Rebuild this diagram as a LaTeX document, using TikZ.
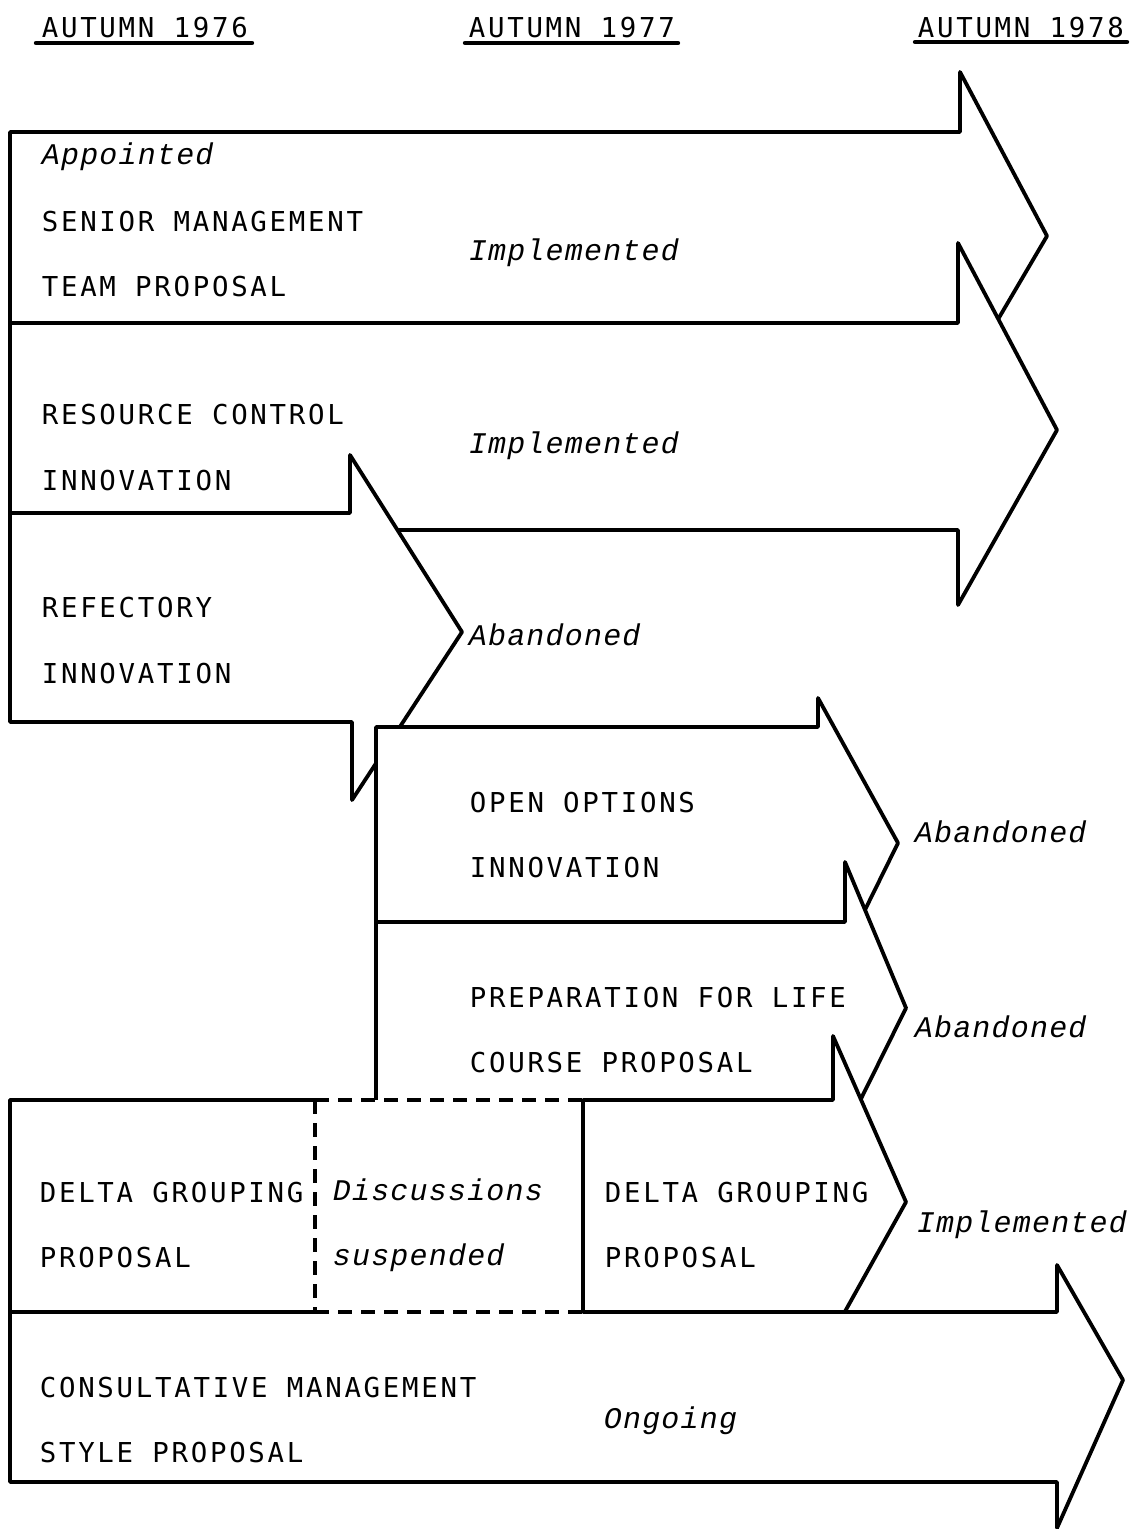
\documentclass[tikz,border=0pt]{standalone}
\usepackage{fontspec}
\newfontfamily\twfont{DejaVu Sans Mono}[LetterSpace=9.9]
\newfontfamily\twitfont{Liberation Mono}[LetterSpace=4]
\begin{document}
\begin{tikzpicture}[x=0.5pt,y=-0.5pt,
  line width=1.9pt, line join=round, line cap=round,
  caps/.style={inner sep=0pt, anchor=base west, font=\twfont\fontsize{13.7pt}{16pt}\selectfont},
  note/.style={inner sep=0pt, anchor=base west, font=\twitfont\itshape\fontsize{15pt}{18pt}\selectfont},
  shaft/.style={fill=white, draw=black},
  gap/.style={dash pattern=on 7pt off 4.5pt, line cap=butt}]
\useasboundingbox (0,0) rectangle (1131,1529);

% ---- time axis headings ----
\node[caps] (h76) at (40,38) {AUTUMN 1976};
\node[caps] (h77) at (467,38) {AUTUMN 1977};
\node[caps] (h78) at (916,38) {AUTUMN 1978};
\draw[line width=2.2pt] (36,43) -- (252,43);
\draw[line width=2.2pt] (465,43) -- (678,43);
\draw[line width=2.2pt] (915,42) -- (1127,42);

% ---- senior management team ----
\draw[shaft] (10,132) -- (960,132) -- (960,72) -- (1047,236) -- (960,384)
  -- (960,323) -- (10,323) -- cycle;
% ---- resource control ----
\draw[shaft] (10,323) -- (958,323) -- (958,243) -- (1057,430) -- (958,605)
  -- (958,530) -- (10,530) -- cycle;
% ---- refectory ----
\draw[shaft] (10,513) -- (350,513) -- (350,455) -- (462,632) -- (352,800)
  -- (352,722) -- (10,722) -- cycle;
% ---- open options ----
\draw[shaft] (376,727) -- (818,727) -- (818,698) -- (898,843) -- (818,1005)
  -- (818,959) -- (376,959) -- cycle;
% ---- preparation for life (lower edge shared with delta grouping) ----
\fill[white] (376,922) -- (845,922) -- (845,862) -- (906,1008) -- (845,1131)
  -- (845,1100) -- (376,1100) -- cycle;
\draw (376,1100) -- (376,922) -- (845,922) -- (845,862) -- (906,1008)
  -- (845,1131) -- (845,1100);
% ---- delta grouping ----
\fill[white] (10,1100) -- (833,1100) -- (833,1036) -- (906,1202) -- (833,1333)
  -- (833,1312) -- (10,1312) -- cycle;
\draw (10,1312) -- (10,1100) -- (315,1100);
\draw (583,1312) -- (583,1100) -- (833,1100) -- (833,1036) -- (906,1202)
  -- (833,1333) -- (833,1312);
% ---- consultative management ----
\fill[white] (10,1312) -- (1057,1312) -- (1057,1265) -- (1123,1380) -- (1057,1528)
  -- (1057,1482) -- (10,1482) -- cycle;
\draw (315,1312) -- (10,1312) -- (10,1482) -- (1057,1482) -- (1057,1528)
  -- (1123,1380) -- (1057,1265) -- (1057,1312) -- (583,1312);
% ---- suspended period ----
\draw[gap] (315,1100) -- (583,1100);
\draw[gap] (315,1100) -- (315,1312);
\draw[gap] (315,1312) -- (583,1312);

% ---- labels ----
\node[note] (appt) at (40,165) {Appointed};
\node[caps] (smt1) at (40,232) {SENIOR MANAGEMENT};
\node[caps] (smt2) at (40,297) {TEAM PROPOSAL};
\node[note] (smtr) at (467,261) {Implemented};

\node[caps] (rc1) at (40,425) {RESOURCE CONTROL};
\node[caps] (rc2) at (40,490) {INNOVATION};
\node[note] (rcr) at (467,453) {Implemented};

\node[caps] (rf1) at (40,617) {REFECTORY};
\node[caps] (rf2) at (40,683) {INNOVATION};
\node[note] (rfr) at (467,645) {Abandoned};

\node[caps] (oo1) at (468,812) {OPEN OPTIONS};
\node[caps] (oo2) at (468,877) {INNOVATION};
\node[note] (oor) at (913,842) {Abandoned};

\node[caps] (pl1) at (468,1007) {PREPARATION FOR LIFE};
\node[caps] (pl2) at (468,1072) {COURSE PROPOSAL};
\node[note] (plr) at (913,1037) {Abandoned};

\node[caps] (dg1) at (38,1202) {DELTA GROUPING};
\node[caps] (dg2) at (38,1267) {PROPOSAL};
\node[note] (ds1) at (331,1200) {Discussions};
\node[note] (ds2) at (331,1265) {suspended};
\node[caps] (dh1) at (603,1202) {DELTA GROUPING};
\node[caps] (dh2) at (603,1267) {PROPOSAL};
\node[note] (dgr) at (915,1232) {Implemented};

\node[caps] (cm1) at (38,1397) {CONSULTATIVE MANAGEMENT};
\node[caps] (cm2) at (38,1462) {STYLE PROPOSAL};
\node[note] (cmr) at (602,1428) {Ongoing};
\end{tikzpicture}
\end{document}
